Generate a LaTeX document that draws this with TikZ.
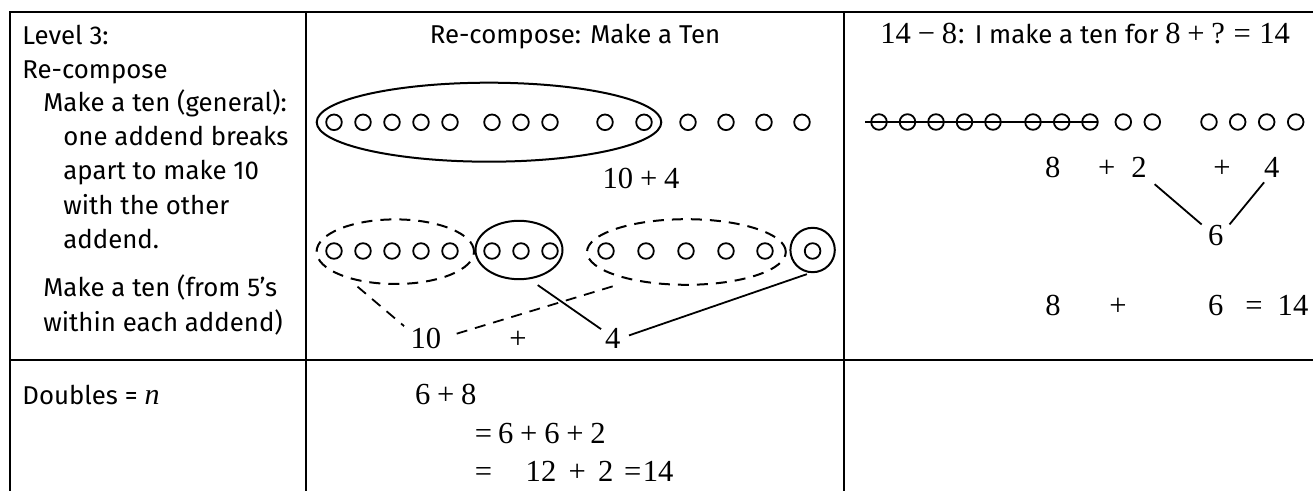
\documentclass[tikz,border=0pt]{standalone}
\usepackage{fontspec}
\setmainfont{Fira Sans}
\newfontfamily\serif{Liberation Serif}
\usetikzlibrary{shapes.geometric}
\newcommand\mplus{\hspace{0.222em}+\hspace{0.222em}}
\newcommand\mminus{\hspace{0.222em}−\hspace{0.222em}}
\newcommand\meq{\hspace{0.278em}=\hspace{0.278em}}
\begin{document}
\begin{tikzpicture}[x=0.5pt,y=-0.5pt,
  txt/.style={font={\fontsize{12.9}{15}\selectfont}, inner sep=0, anchor=base west},
  num/.style={font={\serif\fontsize{15.3}{18}\selectfont}, inner sep=0, anchor=base},
  dot/.style={line width=0.9pt},
  grp/.style={draw, ellipse, inner sep=0, outer sep=0, line width=1pt},
  dsh/.style={dash pattern=on 5.5pt off 4pt},
  conn/.style={line width=0.9pt},
  gridline/.style={line width=1.1pt}]
\useasboundingbox (0,0) rectangle (1313,491);

% table
\draw[gridline] (1313,12) -- (10,12) -- (10,491);
\draw[gridline] (306,12) -- (306,491);
\draw[gridline] (844,12) -- (844,491);
\draw[gridline] (10,360) -- (1313,360);

% left column
\node[txt] (l1) at (22,45) {Level 3:};
\node[txt] (l2) at (22,78.5) {Re-compose};
\node[txt] (l3) at (43,112) {Make a ten (general):};
\node[txt] (l4) at (63,146) {one addend breaks};
\node[txt] (l5) at (63,180) {apart to make 10};
\node[txt] (l6) at (63,214.5) {with the other};
\node[txt] (l7) at (63,249) {addend.};
\node[txt] (l8) at (43,297) {Make a ten (from 5’s};
\node[txt] (l9) at (43,332) {within each addend)};
\node[txt] (d1) at (22,405) {Doubles = {\serif\itshape\fontsize{15}{18}\selectfont n}};

% middle column
\node[txt, anchor=base] (t2) at (575,43.5) {Re-compose: Make a Ten};
\node[grp, minimum width=172.3pt, minimum height=39.5pt] (e0) at (489,122.2) {};
\foreach \x in {334,363,392,421,450,492,521,550,605,644,688,726,764,802}
  \draw[dot] (\x,122.3) circle[radius=7.8];
\node[num] (s1) at (641,188.3) {10\mplus4};

\node[grp, dsh, minimum width=78.7pt, minimum height=32.3pt] (e1) at (395.3,251.7) {};
\node[grp, minimum width=43.5pt, minimum height=29.2pt] (e2) at (519,250) {};
\node[grp, dsh, minimum width=99.4pt, minimum height=32.8pt] (e3) at (686.4,252) {};
\node[grp, circle, minimum size=22.2pt] (c4) at (812.6,250) {};
\foreach \x in {334,363,392,421,450,492,521,550,606,646,686,726,765,812.6}
  \draw[dot] (\x,251) circle[radius=7.8];

\node[num] (n10) at (425.9,348.3) {10};
\node[num] (npl) at (518,348.3) {+};
\node[num] (n4) at (612.8,348.3) {4};

\draw[conn, dsh, shorten <=7.6pt, shorten >=4pt] (e1.207.5) -- (n10.156);
\draw[conn, dsh, shorten <=7.9pt, shorten >=8.6pt] (n10.east) -- (e3.208);
\draw[conn, shorten <=5.75pt, shorten >=2.25pt] (e2.288) -- (n4.141);
\draw[conn, shorten <=4.3pt, shorten >=3pt] (n4.east) -- (c4.south);

% right column
\node[txt] (t3) at (880,43.5) {{\serif\fontsize{15.3}{18}\selectfont 14\mminus8:} I make a ten for {\serif\fontsize{15.3}{18}\selectfont 8\mplus?\meq14}};
\foreach \x in {879,907.5,936,964.5,993,1033,1061.7,1090,1123.3,1152.3,1209,1237.7,1266.7,1295.7}
  \draw[dot] (\x,122) circle[radius=7.8];
\coordinate (sa) at (865,122);
\coordinate (sb) at (1098.3,122);
\draw[conn] (sa) -- (sb);

\node[num] (r8) at (1052.7,177.3) {8};
\node[num] (rp1) at (1106.7,177.3) {+};
\node[num] (r2) at (1139,177.3) {2};
\node[num] (rp2) at (1222,177.3) {+};
\node[num] (r4) at (1271.7,177.3) {4};
\node[num] (r6) at (1215.8,246) {6};
\draw[conn, shorten <=5pt, shorten >=4pt] (r2.south east) -- (r6.142);
\draw[conn, shorten <=3pt, shorten >=4.5pt] (r4.250) -- (r6.30);

\node[num] (b8) at (1053,316) {8};
\node[num] (bp) at (1118,316) {+};
\node[num] (b6) at (1215.8,316) {6};
\node[num] (beq) at (1254,316) {=};
\node[num] (b14) at (1293,316) {14};

% doubles row
\node[num, anchor=base west] (q1) at (414.6,405) {6\mplus8};
\node[num, anchor=base west] (q2) at (474.4,443.5) {=\hspace{0.2em}6\mplus6\mplus2};
\node[num, anchor=base west] (q3) at (474.4,482) {=\hspace{1.1em}12\hspace{0.4em}+\hspace{0.4em}2\hspace{0.35em}=\hspace{0.05em}14};
\end{tikzpicture}
\end{document}
